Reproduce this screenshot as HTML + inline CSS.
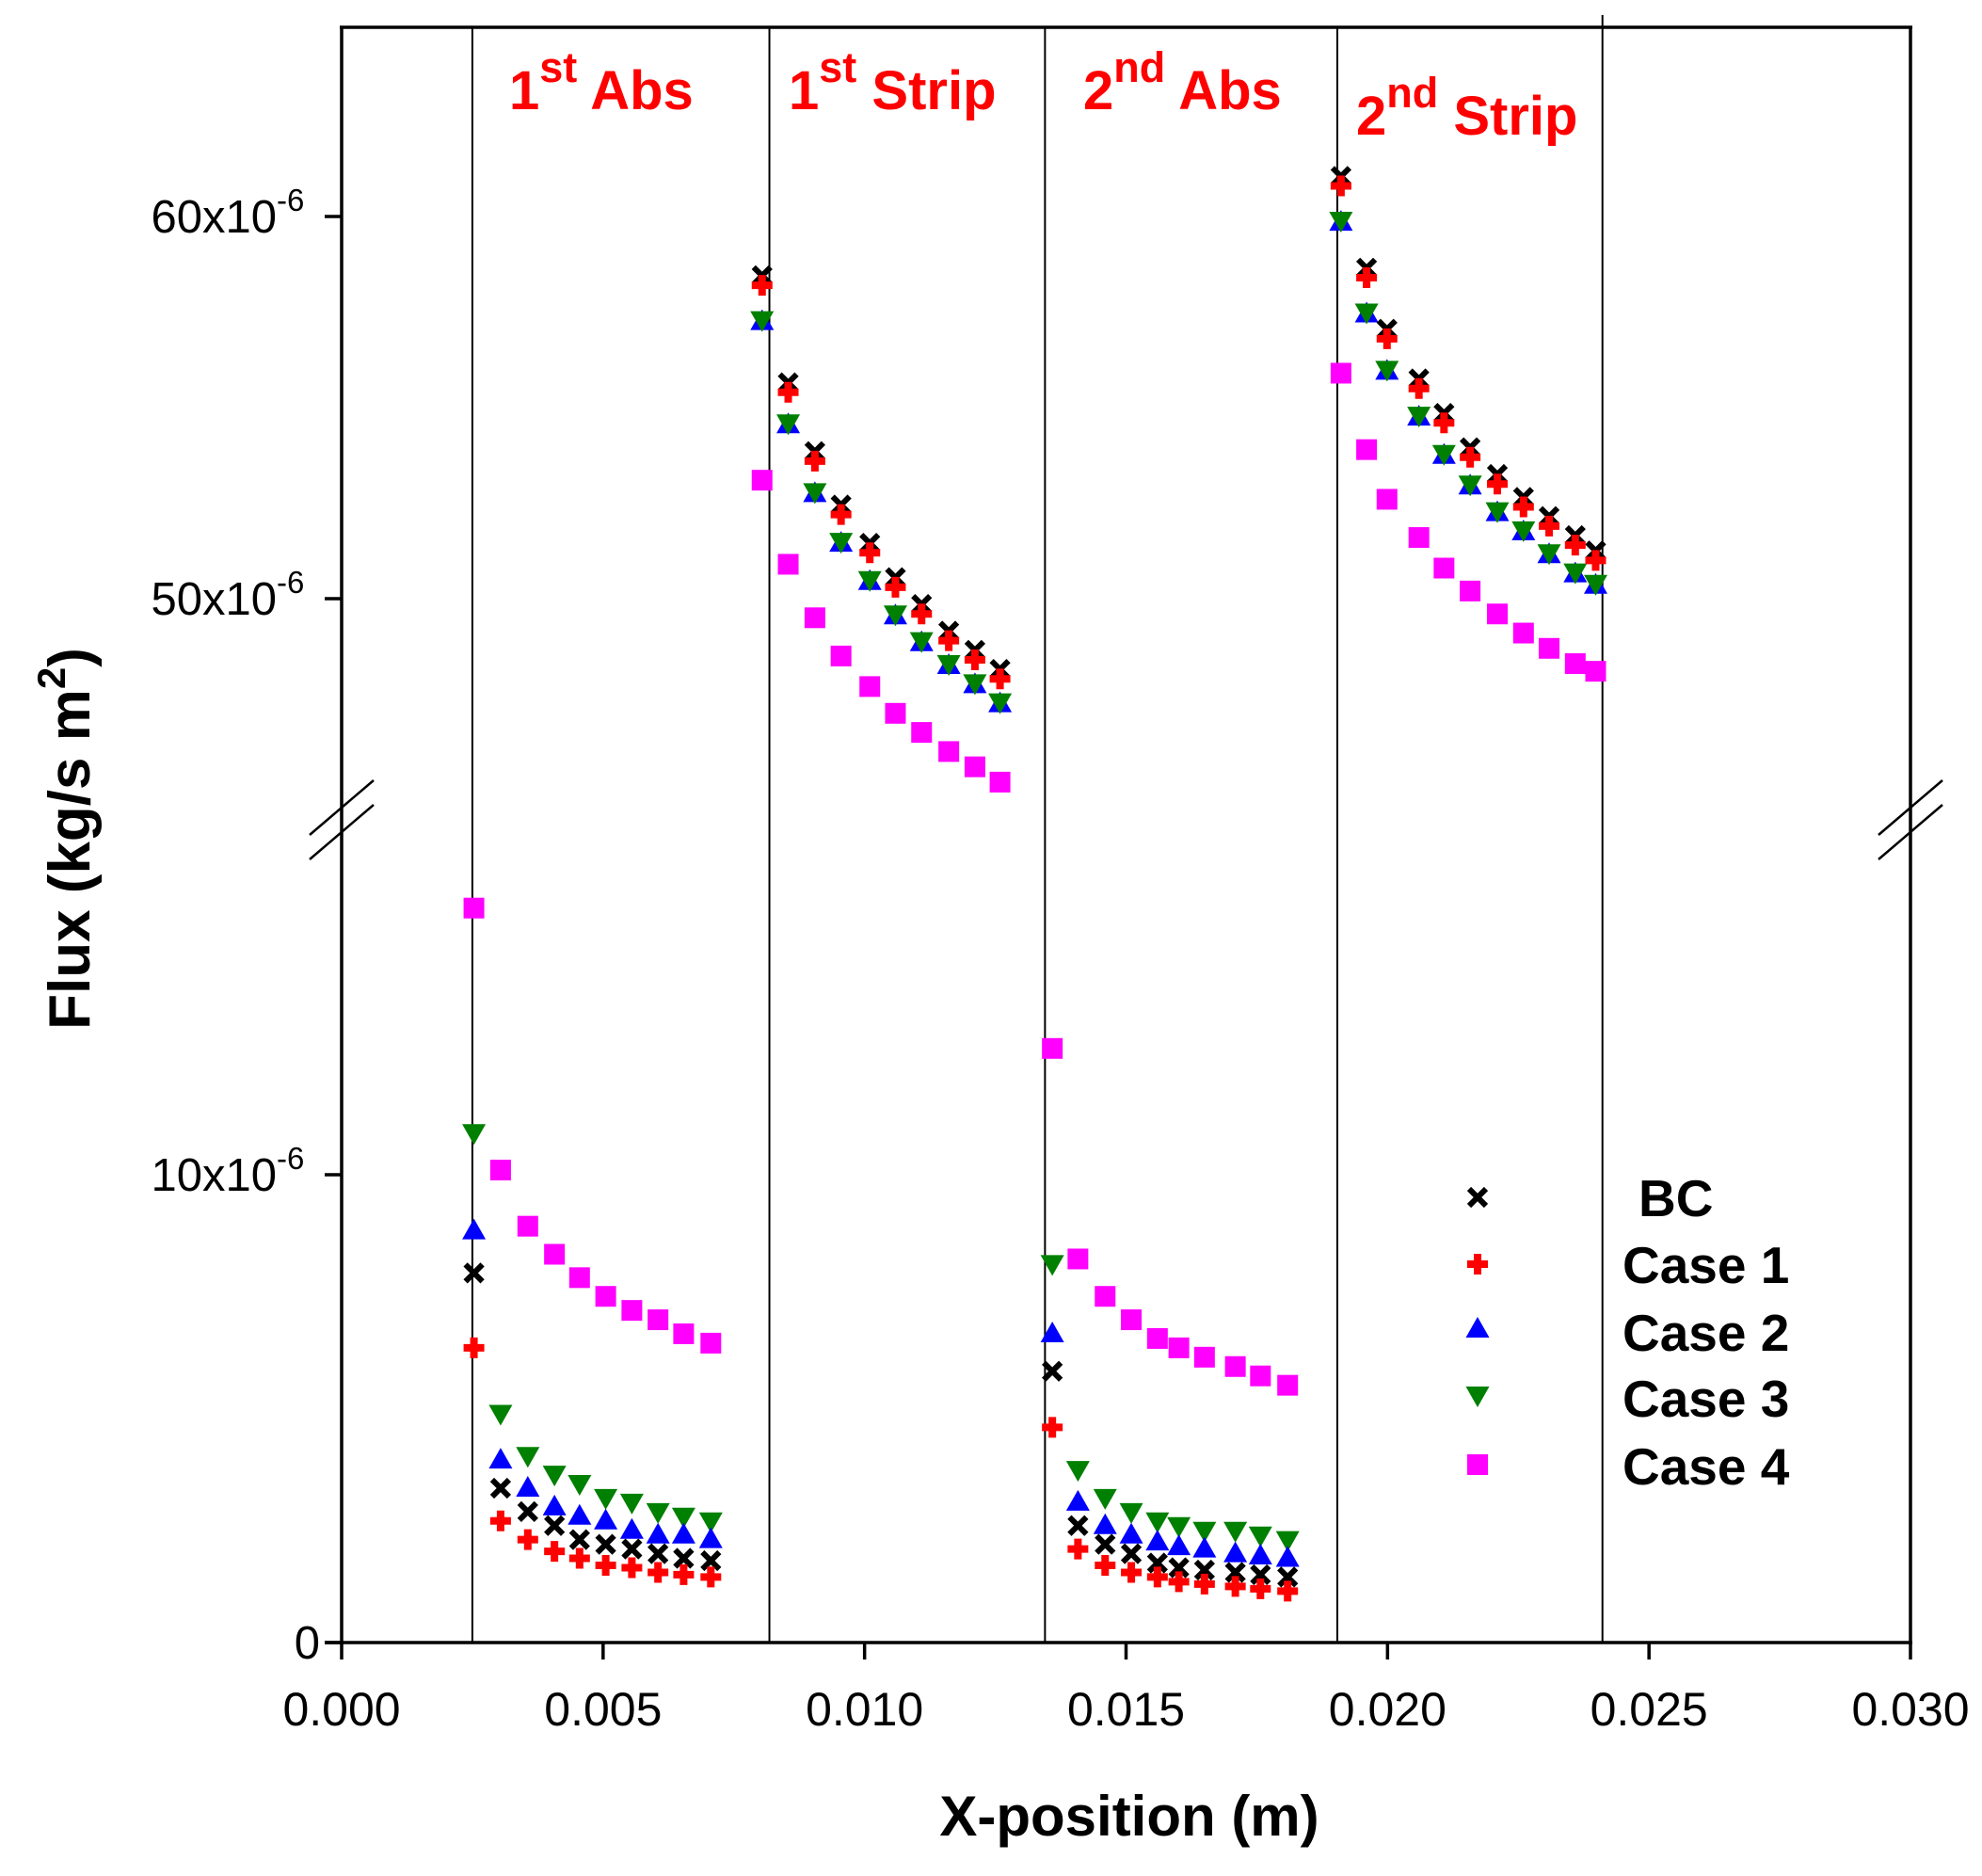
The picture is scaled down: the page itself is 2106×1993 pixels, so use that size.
<!DOCTYPE html>
<html><head><meta charset="utf-8"><style>
html,body{margin:0;padding:0;background:#fff;}
svg{display:block;font-family:"Liberation Sans",Arial,sans-serif;}
</style></head><body>
<svg id="chart" width="2106" height="1993" viewBox="0 0 2106 1993" xmlns="http://www.w3.org/2000/svg">
<g id="frame"></g>
<g id="marks"></g>
<g id="labels"></g>
</svg>
<script>
const xs_abs1 = [0.00253,0.00304,0.00356,0.00407,0.00455,0.00505,0.00555,0.00605,0.00654,0.00706];
const xs_strip1 = [0.00804,0.00854,0.00905,0.00955,0.01010,0.01059,0.01109,0.01161,0.01211,0.01259];
const xs_abs2 = [0.01359,0.01408,0.01460,0.01510,0.01560,0.01601,0.01650,0.01709,0.01757,0.01809];
const xs_strip2 = [0.01911,0.01960,0.01999,0.02060,0.02108,0.02158,0.02210,0.02260,0.02309,0.02359,0.02398];

const bc_abs1 = [7.9,3.3,2.8,2.5,2.2,2.1,2.0,1.9,1.8,1.75];
const c1_abs1 = [6.3,2.6,2.2,1.95,1.8,1.65,1.6,1.5,1.45,1.4];
const c2_abs1 = [8.8,3.9,3.3,2.9,2.7,2.6,2.4,2.3,2.3,2.2];
const c3_abs1 = [10.9,4.9,4.0,3.6,3.4,3.1,3.0,2.8,2.7,2.6];
const c4_abs1 = [15.7,10.1,8.9,8.3,7.8,7.4,7.1,6.9,6.6,6.4];

const bc_abs2 = [5.8,2.5,2.1,1.9,1.7,1.6,1.55,1.5,1.45,1.4];
const c1_abs2 = [4.6,2.0,1.65,1.5,1.4,1.3,1.25,1.2,1.15,1.1];
const c2_abs2 = [6.6,3.0,2.5,2.3,2.15,2.05,2.0,1.9,1.85,1.8];
const c3_abs2 = [8.1,3.7,3.1,2.8,2.6,2.5,2.4,2.4,2.3,2.2];
const c4_abs2 = [12.7,8.2,7.4,6.9,6.5,6.3,6.1,5.9,5.7,5.5];

const bc_strip1 = [58.45,55.65,53.85,52.45,51.45,50.55,49.85,49.15,48.65,48.15];
const c1_strip1 = [58.2,55.4,53.6,52.2,51.2,50.3,49.6,48.9,48.4,47.9];
const c2_strip1 = [57.25,54.55,52.75,51.45,50.45,49.55,48.85,48.25,47.75,47.25];
const c3_strip1 = [57.3,54.6,52.8,51.5,50.5,49.6,48.9,48.3,47.8,47.3];
const c4_strip1 = [53.1,50.9,49.5,48.5,47.7,47.0,46.5,46.0,45.6,45.2];

const bc_strip2 = [61.05,58.65,57.05,55.75,54.85,53.95,53.25,52.65,52.15,51.65,51.25];
const c1_strip2 = [60.8,58.4,56.8,55.5,54.6,53.7,53.0,52.4,51.9,51.4,51.0];
const c2_strip2 = [59.85,57.45,55.95,54.75,53.75,52.95,52.25,51.75,51.15,50.65,50.35];
const c3_strip2 = [59.9,57.5,56.0,54.8,53.8,53.0,52.3,51.8,51.2,50.7,50.4];
const c4_strip2 = [55.9,53.9,52.6,51.6,50.8,50.2,49.6,49.1,48.7,48.3,48.1];

const xTickValues = [0,0.005,0.010,0.015,0.020,0.025,0.030];
const xTickLabels = ["0.000","0.005","0.010","0.015","0.020","0.025","0.030"];
const yLowTicks = [0,10];
const yLowLabels = ["0","10x10"];
const yHighTicks = [50,60];
const yHighLabels = ["50x10","60x10"];
const dividers = [0.00250,0.00818,0.01345,0.01904,0.02411];
const regions = [
  {name:"region-label-1st-abs", num:"1", sup:"st", word:"Abs", x:541, y:116},
  {name:"region-label-1st-strip", num:"1", sup:"st", word:"Strip", x:838, y:116},
  {name:"region-label-2nd-abs", num:"2", sup:"nd", word:"Abs", x:1151, y:116},
  {name:"region-label-2nd-strip", num:"2", sup:"nd", word:"Strip", x:1441, y:143}
];

const NS="http://www.w3.org/2000/svg";
const X0=363, X1=2030, YTOP=29, YBOT=1745;
function xS(v){return X0+(v/0.03)*(X1-X0);}
function yLow(v){return YBOT - v*49.7;}
function yHigh(v){return 230 + (60-v)*40.6;}
function mk(tag,attrs,parent){const e=document.createElementNS(NS,tag);for(const k in attrs)e.setAttribute(k,attrs[k]);parent.appendChild(e);return e;}

const frame=document.getElementById('frame');
const marks=document.getElementById('marks');
const labels=document.getElementById('labels');

let el;
el=mk('line',{x1:X0,y1:YTOP,x2:X0,y2:YBOT+2,stroke:'#000','stroke-width':3.5},frame);


el=mk('line',{x1:X1,y1:YTOP,x2:X1,y2:YBOT+2,stroke:'#000','stroke-width':3.5},frame);


el=mk('line',{x1:X0-2,y1:YTOP,x2:X1+2,y2:YTOP,stroke:'#000','stroke-width':3.5},frame);


el=mk('line',{x1:X0-18,y1:YBOT,x2:X1+2,y2:YBOT,stroke:'#000','stroke-width':3.5},frame);



[X0,X1].forEach(function(cx){
  [-13,13].forEach(function(off){
    const b=mk('line',{x1:cx-34,y1:900+off,x2:cx+34,y2:842+off,stroke:'#000','stroke-width':2.5},frame);
    
    
  });
});

dividers.forEach(function(d,i){
  const top = i===4 ? 16 : YTOP;
  const l=mk('line',{x1:xS(d),y1:top,x2:xS(d),y2:YBOT,stroke:'#000','stroke-width':2},frame);
  
  
});

xTickValues.forEach(function(v,i){
  const t=mk('line',{x1:xS(v),y1:YBOT,x2:xS(v),y2:YBOT+18,stroke:'#000','stroke-width':3.5},frame);
  
  
  const tx=mk('text',{x:xS(v),y:1833,'text-anchor':'middle','font-size':50,fill:'#000'},labels);
  tx.textContent=xTickLabels[i];
  
  
});

function yTick(y,label,exp){
  const t=mk('line',{x1:X0-18,y1:y,x2:X0,y2:y,stroke:'#000','stroke-width':3.5},frame);
  
  
  const tx=mk('text',{x:exp?294:340,y:y+17,'text-anchor':'end','font-size':49,fill:'#000'},labels);
  tx.textContent=label;
  
  
  if(exp){
    const s=mk('text',{x:294,y:y-6,'text-anchor':'start','font-size':33,fill:'#000'},labels);
    s.textContent='-6';
    
    
  }
}
yLowTicks.forEach(function(v,i){yTick(yLow(v),yLowLabels[i],v!==0);});
yHighTicks.forEach(function(v,i){yTick(yHigh(v),yHighLabels[i],true);});

el=mk('text',{x:1200,y:1950,'text-anchor':'middle','font-size':60,'font-weight':'bold',fill:'#000'},labels);
el.textContent='X-position (m)';


el=mk('text',{x:0,y:0,'text-anchor':'middle','font-size':62,'font-weight':'bold',fill:'#000',transform:'translate(95,891) rotate(-90)'},labels);
el.innerHTML='Flux (kg/s m<tspan dy="-26" font-size="42">2</tspan><tspan dy="26">)</tspan>';



regions.forEach(function(r){
  const t=mk('text',{x:r.x,y:r.y,'font-size':58,'font-weight':'bold',fill:'#ff0000'},labels);
  t.innerHTML=r.num+'<tspan dy="-29" font-size="45">'+r.sup+'</tspan><tspan dy="29"> '+r.word+'</tspan>';
  
  
});

function marker(type,cx,cy,parent){
  let e;
  if(type==='bc'){
    e=mk('path',{d:`M${cx-9},${cy-9}L${cx+9},${cy+9}M${cx+9},${cy-9}L${cx-9},${cy+9}`,stroke:'#000','stroke-width':6,fill:'none'},parent);
  } else if(type==='c1'){
    e=mk('path',{d:`M${cx-4},${cy-11}h8v7h7v8h-7v7h-8v-7h-7v-8h7z`,fill:'#ff0000'},parent);
  } else if(type==='c2'){
    e=mk('path',{d:`M${cx},${cy-13}L${cx+12.5},${cy+9}L${cx-12.5},${cy+9}Z`,fill:'#0000ff'},parent);
  } else if(type==='c3'){
    e=mk('path',{d:`M${cx-12.5},${cy-9}L${cx+12.5},${cy-9}L${cx},${cy+13}Z`,fill:'#008000'},parent);
  } else {
    e=mk('rect',{x:cx-11,y:cy-11,width:22,height:22,fill:'#ff00ff'},parent);
  }
  return e;
}
const segments=[
  [xs_abs1,yLow,{c4:c4_abs1,c3:c3_abs1,c2:c2_abs1,bc:bc_abs1,c1:c1_abs1}],
  [xs_abs2,yLow,{c4:c4_abs2,c3:c3_abs2,c2:c2_abs2,bc:bc_abs2,c1:c1_abs2}],
  [xs_strip1,yHigh,{c4:c4_strip1,c2:c2_strip1,c3:c3_strip1,bc:bc_strip1,c1:c1_strip1}],
  [xs_strip2,yHigh,{c4:c4_strip2,c2:c2_strip2,c3:c3_strip2,bc:bc_strip2,c1:c1_strip2}]
];
const seriesNames={bc:'bc',c1:'case-1',c2:'case-2',c3:'case-3',c4:'case-4'};
segments.forEach(function(seg){
  const xsArr=seg[0], yf=seg[1], ser=seg[2];
  Object.keys(ser).forEach(function(k){
    ser[k].forEach(function(v,i){
      const m=marker(k,xS(xsArr[i]),yf(v),marks);
      
      
    });
  });
});

const legendKeys=['bc','c1','c2','c3','c4'];
const legendText=['BC','Case 1','Case 2','Case 3','Case 4'];
const legendYs=[1272,1343,1412,1482,1556];
const legendBase=[1292,1363,1435,1505,1577];
const lg=mk('g',{},labels);


legendKeys.forEach(function(k,i){
  const m=marker(k,1570,legendYs[i],lg);
  
  
  const t=mk('text',{x:i===0?1741:1724,y:legendBase[i],'font-size':55,'font-weight':'bold',fill:'#000'},lg);
  t.textContent=legendText[i];
  
  
});
</script>
</body></html>
